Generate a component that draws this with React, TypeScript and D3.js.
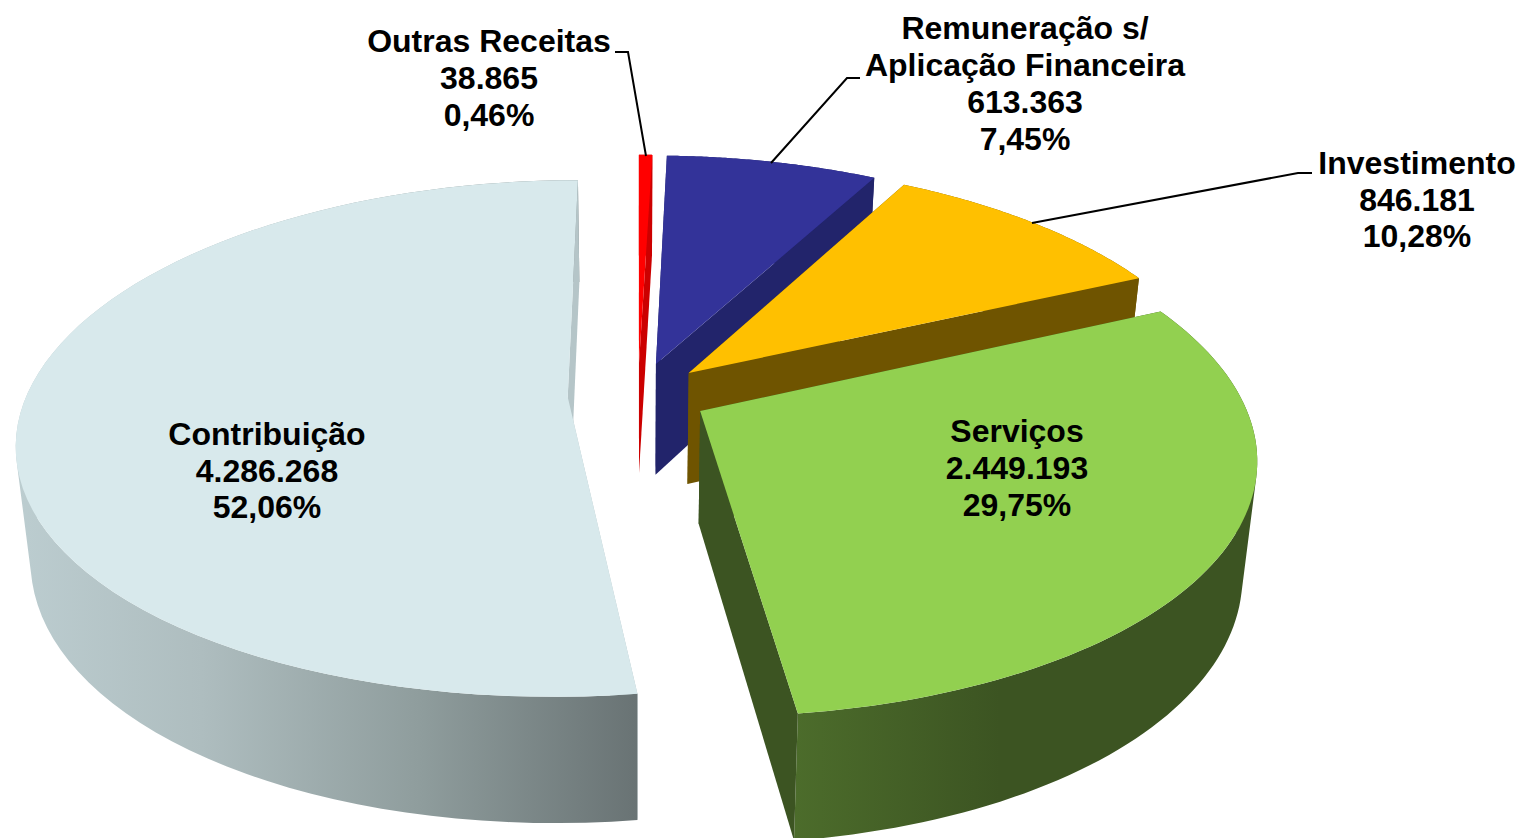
import React from "react";
import * as d3 from "d3";

const categories = ["Outras Receitas", "Remuneração s/ Aplicação Financeira", "Investimento", "Serviços", "Contribuição"];
const values = [38865, 613363, 846181, 2449193, 4286268];
const valueLabels = ["38.865", "613.363", "846.181", "2.449.193", "4.286.268"];
const percentLabels = ["0,46%", "7,45%", "10,28%", "29,75%", "52,06%"];
const topColors = ["#ff0000", "#333399", "#ffc000", "#92d050", "#d8e9ec"];
const wallColors = ["#cc0000", "#22246b", "#6f5400", "#3c5422", "#b5c5c8"];
const rimFills = ["#cc0000", "#22246b", "#6f5400", "url(#rimSer)", "url(#rimCon)"];
const drawOrder = [1, 2, 0, 4, 3];

const labelLines = [
  ["Outras Receitas", valueLabels[0], percentLabels[0]],
  ["Remuneração s/", "Aplicação Financeira", valueLabels[1], percentLabels[1]],
  ["Investimento", valueLabels[2], percentLabels[2]],
  ["Serviços", valueLabels[3], percentLabels[3]],
  ["Contribuição", valueLabels[4], percentLabels[4]],
];
const labelX = [489, 1025, 1417, 1017, 267];
const labelY = [52, 39, 174, 442, 445];
const labelStep = [37, 37, 36.5, 37, 36.5];
const leaders: [number, number][][] = [
  [[615, 52], [628, 52], [646, 156]],
  [[860, 78], [847, 78], [771, 163]],
  [[1312, 173], [1298, 173], [1032, 223]],
];

const W = 1518, H = 838;
const cx = 638, cy = 395, Rx = 541, Ry = 251, perspX = 0.17, perspY = 0.16, depth = 112, shrink = 0.024, explode = 0.13;

const project = (X: number, Y: number, z: number): [number, number] => {
  const wx = 1 + perspX * Y;
  const wy = 1 + perspY * Y;
  const s = 1 - z * shrink;
  return [cx + (X * Rx * s) / wx, cy - (Y * Ry * s) / wy + (z * depth) / wy];
};

const pie = d3.pie<number>().sort(null).startAngle(0).endAngle(2 * Math.PI);
const arcs = pie(values);
const line = d3.line<[number, number]>().curve(d3.curveLinear);

function slicePaths(a: d3.PieArcDatum<number>) {
  const mid = (a.startAngle + a.endAngle) / 2;
  const ox = explode * Math.sin(mid), oy = explode * Math.cos(mid);
  const angles = d3.range(0, 1.0001, 1 / 80).map((t) => a.startAngle + t * (a.endAngle - a.startAngle));
  const rim = (z: number) => angles.map((t) => project(ox + Math.sin(t), oy + Math.cos(t), z));
  const apex = (z: number) => project(ox, oy, z);
  const r0 = rim(0), r1 = rim(1);
  const top = line([apex(0), ...r0]) + "Z";
  // The side band is a run of quads, all wound the same way, so its folds do not cancel out.
  const rib = d3.range(r0.length - 1).map((k) => {
    const quad: [number, number][] = [r0[k], r0[k + 1], r1[k + 1], r1[k]];
    if (d3.polygonArea(quad) < 0) quad.reverse();
    return line(quad) + "Z";
  }).join("");
  const wallA = line([apex(0), r0[0], r1[0], apex(1)]) + "Z";
  const wallB = line([apex(0), r0[r0.length - 1], r1[r1.length - 1], apex(1)]) + "Z";
  return { top, rib, wallA, wallB };
}

export default function App() {
  return (
    <svg width={W} height={H} viewBox={`0 0 ${W} ${H}`} style={{ position: "absolute", left: 0, top: 0, display: "block", background: "#fff" }}>
      <defs>
        <linearGradient id="rimCon" gradientUnits="userSpaceOnUse" x1={15} x2={637} y1={0} y2={0}>
          <stop offset="0" stopColor="#bccdd0" />
          <stop offset="0.3" stopColor="#aebdbf" />
          <stop offset="0.65" stopColor="#8f9d9d" />
          <stop offset="1" stopColor="#697374" />
        </linearGradient>
        <linearGradient id="rimSer" gradientUnits="userSpaceOnUse" x1={795} x2={1000} y1={0} y2={0}>
          <stop offset="0" stopColor="#4c6c2b" />
          <stop offset="1" stopColor="#3c5422" />
        </linearGradient>
      </defs>
      {drawOrder.map((i) => {
        const p = slicePaths(arcs[i]);
        return (
          <g key={categories[i]}>
            <path d={p.wallA} fill={wallColors[i]} />
            <path d={p.rib} fill={rimFills[i]} />
            <path d={p.wallB} fill={wallColors[i]} />
            <path d={p.top} fill={topColors[i]} />
          </g>
        );
      })}
      {leaders.map((pts, i) => (
        <path key={i} d={line(pts) ?? ""} fill="none" stroke="#000" strokeWidth={2} />
      ))}
      {labelLines.map((lines, i) => (
        <text key={i} textAnchor="middle" fontFamily="'Liberation Sans', Arial, sans-serif" fontWeight="bold" fontSize={32} fill="#000">
          {lines.map((t, j) => (
            <tspan key={j} x={labelX[i]} y={labelY[i] + j * labelStep[i]}>{t}</tspan>
          ))}
        </text>
      ))}
    </svg>
  );
}
